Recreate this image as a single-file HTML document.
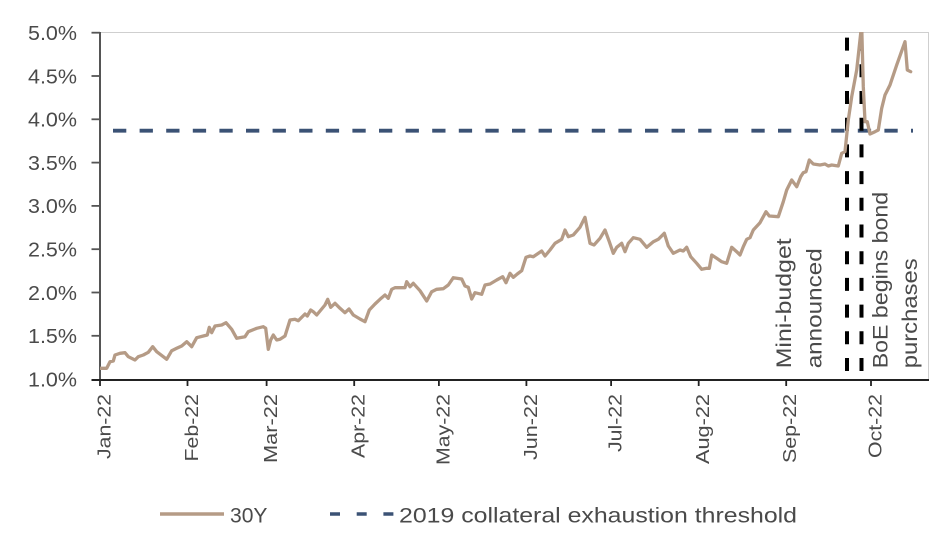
<!DOCTYPE html>
<html>
<head>
<meta charset="utf-8">
<style>
  html,body{margin:0;padding:0;background:#fff;}
  svg{display:block;}
  text{font-family:"Liberation Sans","DejaVu Sans",sans-serif;fill:#4a4a4a;}
</style>
</head>
<body>
<svg width="937" height="539" viewBox="0 0 937 539" xmlns="http://www.w3.org/2000/svg">
  <defs>
    <clipPath id="plot"><rect x="100" y="32" width="829" height="348"/></clipPath>
  </defs>
  <rect x="0" y="0" width="937" height="539" fill="#fff"/>

  <!-- frame top/right -->
  <line x1="100" y1="32.5" x2="929" y2="32.5" stroke="#cfcfcf" stroke-width="1"/>
  <line x1="928.5" y1="32" x2="928.5" y2="380" stroke="#cfcfcf" stroke-width="1"/>

  <!-- y axis -->
  <line x1="100" y1="32" x2="100" y2="380" stroke="#555" stroke-width="2"/>
  <g stroke="#555" stroke-width="1.8">
    <line x1="91.5" y1="32.7" x2="100" y2="32.7"/>
    <line x1="91.5" y1="76" x2="100" y2="76"/>
    <line x1="91.5" y1="119.3" x2="100" y2="119.3"/>
    <line x1="91.5" y1="162.6" x2="100" y2="162.6"/>
    <line x1="91.5" y1="205.9" x2="100" y2="205.9"/>
    <line x1="91.5" y1="249.2" x2="100" y2="249.2"/>
    <line x1="91.5" y1="292.5" x2="100" y2="292.5"/>
    <line x1="91.5" y1="335.8" x2="100" y2="335.8"/>
  </g>
  <g font-size="20" text-anchor="end">
    <text x="77" y="40" textLength="49" lengthAdjust="spacingAndGlyphs">5.0%</text>
    <text x="77" y="83.3" textLength="49" lengthAdjust="spacingAndGlyphs">4.5%</text>
    <text x="77" y="126.6" textLength="49" lengthAdjust="spacingAndGlyphs">4.0%</text>
    <text x="77" y="169.9" textLength="49" lengthAdjust="spacingAndGlyphs">3.5%</text>
    <text x="77" y="213.2" textLength="49" lengthAdjust="spacingAndGlyphs">3.0%</text>
    <text x="77" y="256.5" textLength="49" lengthAdjust="spacingAndGlyphs">2.5%</text>
    <text x="77" y="299.8" textLength="49" lengthAdjust="spacingAndGlyphs">2.0%</text>
    <text x="77" y="343.1" textLength="49" lengthAdjust="spacingAndGlyphs">1.5%</text>
    <text x="77" y="386.4" textLength="49" lengthAdjust="spacingAndGlyphs">1.0%</text>
  </g>

  <!-- x axis -->
  <line x1="91.5" y1="380" x2="929" y2="380" stroke="#222" stroke-width="2"/>
  <g stroke="#222" stroke-width="1.8">
    <line x1="100" y1="380" x2="100" y2="386"/>
    <line x1="187.5" y1="380" x2="187.5" y2="386"/>
    <line x1="266.6" y1="380" x2="266.6" y2="386"/>
    <line x1="354.2" y1="380" x2="354.2" y2="386"/>
    <line x1="438.9" y1="380" x2="438.9" y2="386"/>
    <line x1="526.4" y1="380" x2="526.4" y2="386"/>
    <line x1="611.1" y1="380" x2="611.1" y2="386"/>
    <line x1="698.7" y1="380" x2="698.7" y2="386"/>
    <line x1="786.2" y1="380" x2="786.2" y2="386"/>
    <line x1="871" y1="380" x2="871" y2="386"/>
  </g>
  <g font-size="18.5" text-anchor="end">
    <text transform="translate(110.5,394) rotate(-90)" textLength="65" lengthAdjust="spacingAndGlyphs">Jan-22</text>
    <text transform="translate(198,394) rotate(-90)" textLength="67.5" lengthAdjust="spacingAndGlyphs">Feb-22</text>
    <text transform="translate(277.1,394) rotate(-90)" textLength="69" lengthAdjust="spacingAndGlyphs">Mar-22</text>
    <text transform="translate(364.7,394) rotate(-90)" textLength="64" lengthAdjust="spacingAndGlyphs">Apr-22</text>
    <text transform="translate(449.4,394) rotate(-90)" textLength="71" lengthAdjust="spacingAndGlyphs">May-22</text>
    <text transform="translate(536.9,394) rotate(-90)" textLength="66" lengthAdjust="spacingAndGlyphs">Jun-22</text>
    <text transform="translate(621.6,394) rotate(-90)" textLength="58" lengthAdjust="spacingAndGlyphs">Jul-22</text>
    <text transform="translate(709.2,394) rotate(-90)" textLength="70" lengthAdjust="spacingAndGlyphs">Aug-22</text>
    <text transform="translate(796.2,394) rotate(-90)" textLength="69" lengthAdjust="spacingAndGlyphs">Sep-22</text>
    <text transform="translate(881.5,394) rotate(-90)" textLength="64" lengthAdjust="spacingAndGlyphs">Oct-22</text>
  </g>

  <!-- threshold line -->
  <line x1="113" y1="130.7" x2="913" y2="130.7" stroke="#3b5275" stroke-width="3.8" stroke-dasharray="13.3 13.3"/>

  <!-- event lines -->
  <line x1="847" y1="371" x2="847" y2="32" stroke="#000" stroke-width="4" stroke-dasharray="13 13.7"/>
  <line x1="861.5" y1="371" x2="861.5" y2="32" stroke="#000" stroke-width="4" stroke-dasharray="13 13.7"/>

  <!-- 30Y series -->
  <polyline clip-path="url(#plot)" fill="none" stroke="#b59b86" stroke-width="3.3" stroke-linejoin="round" stroke-linecap="round"
    points="100,368.3 106.7,368.3 110,361.7 113.3,361 115,355 120,353.3 125,352.7 128.3,356.7 135,360 138.3,356.7 143.3,355 148.3,352.3 152.7,346.7 156.7,351.7 163.3,356.7 166.7,359.3 171.7,350.7 176.7,348.3 181.7,346 186.7,341.7 191.7,346.7 196.7,337.7 203.3,336 207.3,335 209.3,327.3 211.7,332.7 215,326 221.7,325 226,322.7 231.7,329.3 236.7,338.3 245,336.7 248.3,331.7 256.7,328.3 263.3,326.7 265.7,328.3 268.3,349.3 270.7,340 273.3,335 276.7,340 280,339.3 285,336 290,320 295,319.3 298.3,320.7 305,314 307.3,316 310.7,310 313.3,311.7 316.7,315 325,305 327.7,299.3 330.7,307.3 335,303.3 340,308.3 345,312.7 349,309 353.3,315 360,319 365,321.7 369.3,310 375,304 380,299.3 385,295 388.3,298.3 391.7,289.3 395,287.7 405,287.7 406.7,281.7 410,286.7 413.3,283.3 420,290.7 426.7,301 431.7,291.7 436.7,289.3 443.3,288.7 448.3,285 453.3,277.7 461.7,279 465,286 468.3,287.3 471.7,299 475,292.7 481.7,294.3 485,285 490,284 496.7,280 502.7,276.7 506,282.7 510,273.3 513.3,277.3 517.3,274 521.7,270.7 526,257.3 530,256 533.3,256.7 541.7,251 545,256 550,250 555,243.3 561.7,239.3 565,230 568.3,236.7 573.3,235 580,227.3 585,217.3 590,243.3 594,245 600,238.3 605,230 609.3,241.7 613.3,253.3 616.7,247.3 621.7,243.3 625,251.7 628.3,243.3 633.3,237.7 640,239.3 646.7,247.3 653.3,241.7 658.3,239.3 664.3,233.3 668.3,246 673.3,253.3 680,250 683.3,251 686.7,247.3 690.7,256.7 696.7,263.3 701.7,269.3 706.7,268.3 709.3,268.3 711.7,255 716.7,258.3 721.7,261.7 726.7,263.3 731.7,247.3 736.7,251.7 740,255 743.3,246.7 746.7,239.3 750,237.7 753.3,230 760,222.7 766,211.7 769.3,216 778.3,216.7 783.3,201.7 786.7,190 791.7,180 796.7,186.7 800.7,176.7 803.3,172.7 806,171.7 809.3,160 813.3,164 820,165 825,164 828.3,166 831.7,165 838.3,166 841.7,153.3 845,151.7 848.3,120 851.7,96.7 856.7,70 860.7,33.3 861.7,26 863.3,86.7 865,121.7 867.3,121.7 870,134 875,131.7 878.3,130 881.7,108.3 885,95 890,85 896.7,65 905,41.7 907.3,70 910.7,71.7"/>

  <!-- annotations -->
  <g font-size="21">
    <text transform="translate(791,368.3) rotate(-90)" textLength="130" lengthAdjust="spacingAndGlyphs">Mini-budget</text>
    <text transform="translate(821.5,368.3) rotate(-90)" textLength="120" lengthAdjust="spacingAndGlyphs">announced</text>
    <text transform="translate(887.5,368.3) rotate(-90)" textLength="176.5" lengthAdjust="spacingAndGlyphs">BoE begins bond</text>
    <text transform="translate(917,368.3) rotate(-90)" textLength="110" lengthAdjust="spacingAndGlyphs">purchases</text>
  </g>

  <!-- legend -->
  <line x1="160" y1="514" x2="224" y2="514" stroke="#b59b86" stroke-width="3.5"/>
  <text x="230" y="522.3" font-size="21" textLength="37.5" lengthAdjust="spacingAndGlyphs">30Y</text>
  <line x1="330" y1="514" x2="396" y2="514" stroke="#3b5275" stroke-width="3.5" stroke-dasharray="10 16.7"/>
  <text x="399" y="522.3" font-size="21" textLength="398" lengthAdjust="spacingAndGlyphs">2019 collateral exhaustion threshold</text>
</svg>
</body>
</html>
